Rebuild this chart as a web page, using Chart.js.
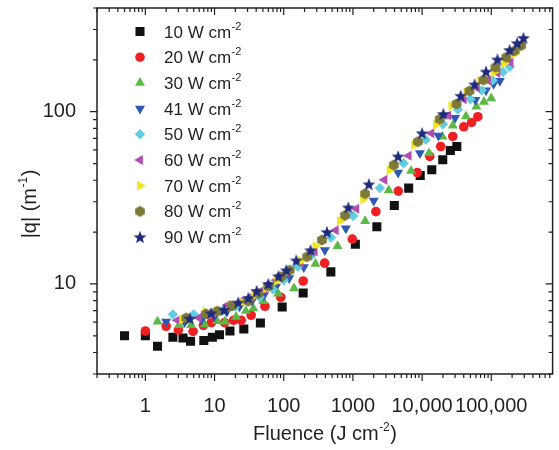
<!DOCTYPE html>
<html>
<head>
<meta charset="utf-8">
<title>|q| vs fluence</title>
<script src="https://cdn.jsdelivr.net/npm/chart.js@4.4.1/dist/chart.umd.min.js"></script>
<style>
  html, body { margin: 0; padding: 0; background: #fff; }
  #wrap { width: 559px; height: 450px; }
</style>
</head>
<body>
<div id="wrap"><canvas id="fluenceChart" width="559" height="450"></canvas></div>
<script>
// power density of each run (W cm-2)
const seriesNames = ["10", "20", "30", "41", "50", "60", "70", "80", "90"];
const seriesColors = ["#111111", "#ee2024", "#5cb947", "#2f58b3", "#62cde0", "#b24fae", "#f2e51e", "#7d7a38", "#1f2a7c"];

// fluence (J cm-2) and |q| (m-1)
const x10 = [0.5, 1, 1.5, 2.5, 3.5, 4.5, 7, 9.3, 11.8, 16.7, 26.5, 46, 95, 191, 480, 1085, 2220, 3970, 6400, 9400, 13800, 19900, 25600, 31800];
const y10 = [5.0, 5.0, 4.35, 4.9, 4.85, 4.65, 4.7, 4.9, 5.07, 5.33, 5.48, 5.93, 7.35, 8.86, 11.75, 17.0, 21.5, 28.5, 36.0, 42.6, 46.0, 52.6, 59.6, 62.8];

const x20 = [1, 2, 3, 4.9, 6.9, 9, 14, 18.8, 24.3, 33.8, 53.5, 90.5, 191, 390, 980, 2150, 4530, 8530, 12900, 18600, 27800, 40000, 52000, 64000];
const y20 = [5.33, 5.68, 5.4, 5.31, 5.75, 5.96, 5.96, 6.15, 6.15, 6.58, 7.42, 8.37, 10.4, 13.2, 18.2, 26.3, 34.6, 44.3, 55.0, 62.8, 71.8, 81.7, 86.6, 93.5];

const x30 = [1.5, 3.07, 4.6, 7.2, 10.9, 14.1, 20.5, 28.3, 36.4, 50.6, 83, 141, 288, 600, 1500, 3300, 6930, 12600, 19700, 27800, 43000, 61000, 78300, 99700];
const y30 = [6.05, 5.77, 5.77, 5.83, 6.09, 6.05, 6.45, 6.97, 7.22, 7.96, 8.8, 9.44, 13.1, 16.6, 23.2, 35, 45.3, 57.4, 71.6, 83, 94, 107, 114, 119.5];

const x41 = [2.0, 3.7, 6.5, 10, 15, 23, 35, 52, 77, 120, 195, 393, 790, 2000, 4500, 9300, 17200, 30000, 59000, 84000, 108000, 133000];
const y41 = [6.05, 6.0, 6.2, 6.5, 6.9, 7.4, 8.0, 8.6, 9.6, 10.8, 12.5, 15.7, 21, 30.4, 44.3, 57.5, 72.5, 92, 117, 133, 145, 151];

const x50 = [2.5, 5.0, 8.5, 13, 20, 30, 45, 70, 100, 160, 250, 480, 1010, 2450, 5400, 11300, 20000, 33000, 50000, 73000, 105000, 148000, 185000];
const y50 = [6.66, 6.66, 6.7, 7.0, 7.4, 7.9, 8.4, 9.3, 10.5, 12.6, 14.6, 18.6, 24.8, 36, 50.2, 68.7, 84.5, 103, 118, 133, 152, 170, 182];

const x60 = [2.9, 5.95, 9.5, 15.4, 24, 35, 52, 78, 110, 175, 280, 565, 1120, 2860, 6400, 13600, 24000, 40000, 62000, 90000, 123000, 190000];
const y60 = [6.15, 6.37, 6.8, 7.55, 7.9, 8.5, 9.3, 10.5, 11.6, 13.3, 15.5, 20.5, 27.3, 40.2, 55.5, 75, 95, 118, 138, 152, 168, 193];

const x70 = [3.4, 7.4, 11, 17, 25, 37, 55, 80, 115, 178, 288, 650, 1410, 3400, 7700, 15900, 26500, 43700, 68000, 108000, 153000, 220000];
const y70 = [6.2, 6.9, 7.0, 7.4, 7.8, 8.5, 9.4, 10.4, 11.8, 13.6, 16.6, 23.2, 31, 45.8, 64, 84, 108, 129, 150, 169, 191, 218];

const x80 = [3.9, 7.5, 11, 17.8, 30.9, 43, 60, 92, 122, 218, 357, 770, 1500, 3900, 8700, 18000, 31500, 48500, 77500, 115000, 165000, 218000, 270000];
const y80 = [6.35, 6.7, 6.95, 7.45, 7.96, 8.8, 9.7, 11, 12.0, 14.4, 18.0, 25, 33.4, 49, 67, 90.5, 111, 132, 153, 181, 207, 226, 242];

const x90 = [4.4, 8.9, 13.8, 22, 30.9, 40.6, 60, 84, 109, 152, 244, 422, 860, 1700, 4500, 10000, 20300, 36200, 57400, 84000, 123000, 184000, 236000, 292000];
const y90 = [6.3, 6.75, 7.07, 7.8, 8.3, 9.1, 10, 11.1, 12, 13.7, 15.7, 20, 27.8, 37.9, 55, 75, 97, 123.7, 144, 171, 201, 228, 250, 268];

const xTickValues = [1, 10, 100, 1000, 10000, 100000];
const xTickLabels = ["1", "10", "100", "1000", "10,000", "100,000"];
const yTickValues = [10, 100];
const yTickLabels = ["10", "100"];

const allX = [x10, x20, x30, x41, x50, x60, x70, x80, x90];
const allY = [y10, y20, y30, y41, y50, y60, y70, y80, y90];

const FONT = "'Liberation Sans', Arial, Helvetica, sans-serif";
const INK = "#231f20";

// olive hexagon and navy star are not built-in point styles
function makeMarker(color, draw) {
  const c = document.createElement("canvas");
  c.width = 14;
  c.height = 14;
  const g = c.getContext("2d");
  g.fillStyle = color;
  g.beginPath();
  draw(g);
  g.closePath();
  g.fill();
  return c;
}
const hexMarker = makeMarker(seriesColors[7], g => {
  for (let k = 0; k < 6; k++) {
    const a = Math.PI / 6 + k * Math.PI / 3;
    g.lineTo(7 + 5.6 * Math.cos(a), 7 + 5.6 * Math.sin(a));
  }
});
const starMarker = makeMarker(seriesColors[8], g => {
  for (let k = 0; k < 10; k++) {
    const r = k % 2 === 0 ? 6.8 : 2.8;
    const a = -Math.PI / 2 + k * Math.PI / 5;
    g.lineTo(7 + r * Math.cos(a), 7.6 + r * Math.sin(a));
  }
});

const pointStyles = ["rect", "circle", "triangle", "triangle", "rectRot", "triangle", "triangle", hexMarker, starMarker];
const pointRotations = [0, 0, 0, 180, 0, 270, 90, 0, 0];
const pointRadii = [6.4, 4.8, 5.8, 5.8, 5.2, 5.8, 5.8, 5.5, 6];

const datasets = seriesNames.map((name, i) => ({
  label: name + " W cm-2",
  data: allX[i].map((x, j) => ({ x: x, y: allY[i][j] })),
  backgroundColor: seriesColors[i],
  borderColor: seriesColors[i],
  borderWidth: 0,
  pointStyle: pointStyles[i],
  rotation: pointRotations[i],
  pointRadius: pointRadii[i],
  pointHoverRadius: pointRadii[i],
  showLine: false,
  order: seriesNames.length - i
}));

function isDecade(v) {
  const l = Math.log10(v);
  return Math.abs(l - Math.round(l)) < 1e-6;
}
function isWhole(v) {
  const m = v / Math.pow(10, Math.floor(Math.log10(v) + 1e-9));
  return Math.abs(m - Math.round(m)) < 1e-6;
}

// frame with ticks on all four sides (outward left/bottom, inward top/right)
const frameTicks = {
  id: "frameTicks",
  afterDatasetsDraw(chart) {
    const { ctx, chartArea: a, scales } = chart;
    ctx.save();
    ctx.strokeStyle = INK;
    ctx.lineWidth = 1.5;
    ctx.strokeRect(a.left, a.top, a.right - a.left, a.bottom - a.top);
    ctx.lineWidth = 1.2;
    ctx.beginPath();
    scales.x.ticks.forEach(t => {
      const v = t.value;
      if (!isWhole(v) || v < scales.x.min || v > scales.x.max) return;
      const px = scales.x.getPixelForValue(v);
      const len = isDecade(v) ? 7 : 4;
      ctx.moveTo(px, a.bottom);
      ctx.lineTo(px, a.bottom + len);
      ctx.moveTo(px, a.top);
      ctx.lineTo(px, a.top + len);
    });
    scales.y.ticks.forEach(t => {
      const v = t.value;
      if (!isWhole(v) || v < scales.y.min || v > scales.y.max) return;
      const py = scales.y.getPixelForValue(v);
      const len = isDecade(v) ? 7 : 4;
      ctx.moveTo(a.left, py);
      ctx.lineTo(a.left - len, py);
      ctx.moveTo(a.right, py);
      ctx.lineTo(a.right - len, py);
    });
    ctx.stroke();
    ctx.restore();
  }
};

// text with a raised exponent: main + sup + tail
function supWidths(ctx, main, sup, tail, size, supSize) {
  ctx.font = size + "px " + FONT;
  const w1 = ctx.measureText(main).width;
  const w3 = ctx.measureText(tail).width;
  ctx.font = supSize + "px " + FONT;
  const w2 = ctx.measureText(sup).width;
  return [w1, w2, w3];
}
function drawSup(ctx, main, sup, tail, x, y, size, supSize, rise) {
  const w = supWidths(ctx, main, sup, tail, size, supSize);
  ctx.textAlign = "left";
  ctx.textBaseline = "alphabetic";
  ctx.font = size + "px " + FONT;
  ctx.fillText(main, x, y);
  ctx.font = supSize + "px " + FONT;
  ctx.fillText(sup, x + w[0] + 0.5, y - rise);
  ctx.font = size + "px " + FONT;
  if (tail) ctx.fillText(tail, x + w[0] + w[1] + 1, y);
  return w[0] + w[1] + w[2] + 1;
}

const legendAndTitles = {
  id: "legendAndTitles",
  afterDraw(chart) {
    const ctx = chart.ctx;
    ctx.save();
    ctx.fillStyle = INK;

    // axis titles
    const wx = supWidths(ctx, "Fluence (J cm", "-2", ")", 20, 12);
    drawSup(ctx, "Fluence (J cm", "-2", ")", 325 - (wx[0] + wx[1] + wx[2] + 1) / 2, 440, 20, 12, 9);

    ctx.save();
    ctx.translate(36, 204);
    ctx.rotate(-Math.PI / 2);
    const wy = supWidths(ctx, "|q| (m", "-1", ")", 20, 12);
    drawSup(ctx, "|q| (m", "-1", ")", -(wy[0] + wy[1] + wy[2] + 1) / 2, 0, 20, 12, 9);
    ctx.restore();

    // legend
    chart.data.datasets.forEach((ds, i) => {
      const cy = 31.5 + i * 25.7;
      ctx.fillStyle = ds.backgroundColor;
      Chart.helpers.drawPoint(ctx, {
        pointStyle: ds.pointStyle,
        rotation: ds.rotation,
        radius: ds.pointRadius,
        borderWidth: 0
      }, 140, cy);
      ctx.fillStyle = INK;
      drawSup(ctx, seriesNames[i] + " W cm", "-2", "", 164, cy + 6, 17, 11, 8);
    });
    ctx.restore();
  }
};

new Chart(document.getElementById("fluenceChart"), {
  type: "scatter",
  data: { datasets: datasets },
  options: {
    responsive: false,
    animation: false,
    layout: { padding: { left: 0, right: 2, top: 8, bottom: 0 } },
    plugins: {
      legend: { display: false },
      tooltip: { enabled: false }
    },
    scales: {
      x: {
        type: "logarithmic",
        position: "bottom",
        min: 0.2,
        max: 770000,
        grid: { display: false },
        border: { display: false },
        ticks: {
          autoSkip: false,
          maxRotation: 0,
          padding: 12,
          color: INK,
          font: { family: FONT, size: 20 },
          callback: value => {
            const k = xTickValues.findIndex(v => Math.abs(v - value) / v < 1e-9);
            return k >= 0 ? xTickLabels[k] : "";
          }
        },
        afterFit: scale => {
          scale.height = 76;
          scale.paddingLeft = 0;
          scale.paddingRight = 0;
        }
      },
      y: {
        type: "logarithmic",
        position: "left",
        min: 3,
        max: 400,
        grid: { display: false },
        border: { display: false },
        ticks: {
          autoSkip: false,
          padding: 13,
          color: INK,
          font: { family: FONT, size: 20 },
          callback: value => {
            const k = yTickValues.findIndex(v => Math.abs(v - value) / v < 1e-9);
            return k >= 0 ? yTickLabels[k] : "";
          }
        },
        afterFit: scale => {
          scale.width = 97;
          scale.paddingTop = 0;
          scale.paddingBottom = 0;
        }
      }
    }
  },
  plugins: [frameTicks, legendAndTitles]
});
</script>
</body>
</html>
